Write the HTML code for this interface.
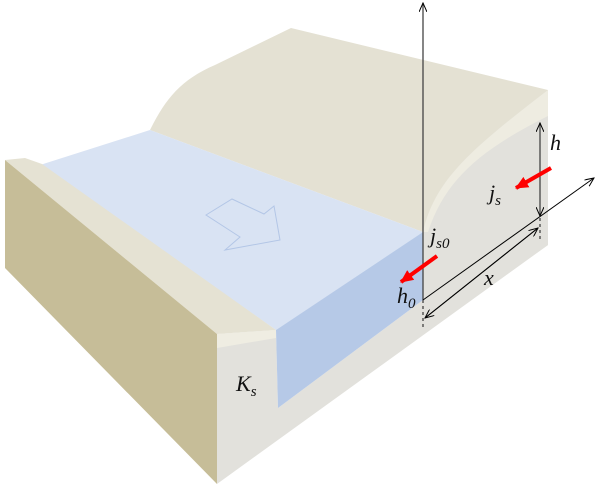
<!DOCTYPE html>
<html><head><style>html,body{margin:0;padding:0;background:#fff}svg{display:block}</style></head>
<body>
<svg width="600" height="490" viewBox="0 0 600 490" xmlns="http://www.w3.org/2000/svg" font-family="Liberation Serif, serif">
<defs>
<marker id="ah" markerWidth="10" markerHeight="8" refX="9" refY="4" orient="auto" markerUnits="userSpaceOnUse"><path d="M0,0 L9,4 L0,8" fill="none" stroke="#000" stroke-width="1"/></marker>
<marker id="ra" markerWidth="14" markerHeight="12" refX="12" refY="6" orient="auto" markerUnits="userSpaceOnUse"><path d="M0,0 L13,6 L0,12 Z" fill="#f00"/></marker>
</defs>
<path d="M150,130 C165,100 180,80 215,65 L291,28 L548,90 L548,245 L423,333 L423,232 Z" fill="#e4e1d3"/>
<path d="M40,165 L150,130 L423,232 L276,330 Z" fill="#d9e3f3"/>
<path d="M5,160 L25,158 L42,164 L276,330 L217,334 Z" fill="#e5e2d3"/>
<path d="M5,160 L217,334 L217,484 L5,268 Z" fill="#c6bd98"/>
<path d="M217,334 L276,330 L278,408 L423,300 L423,232 C435,180 470,150 548,90 L548,245 L217,484 Z" fill="#e2e1dc"/>
<path d="M217,334 L276,330 L276,338 L217,348 Z" fill="#efede2"/>
<path d="M423,232 C435,180 470,150 548,90 L548,116 C480,150 445,180 428,232 Z" fill="#eeece1"/>
<path d="M276,330 L423,232 L423,300 L278,408 Z" fill="#b6c9e7"/>
<path d="M206,215 L232,199 L264,214 L274,206 L280,240 L225,250 L240,237 Z" fill="none" stroke="#b3c6e6" stroke-width="1"/>
<line x1="423" y1="300" x2="423" y2="3" stroke="#444" stroke-width="1.3" marker-end="url(#ah)"/>
<line x1="423" y1="300" x2="423" y2="330" stroke="#444" stroke-width="1.3" stroke-dasharray="3,3"/>
<line x1="423" y1="300" x2="594" y2="178" stroke="#000" stroke-width="1" marker-end="url(#ah)"/>
<line x1="425" y1="318" x2="538" y2="228" stroke="#000" stroke-width="1" marker-end="url(#ah)"/>
<line x1="538" y1="228" x2="425" y2="318" stroke="#000" stroke-width="1" marker-end="url(#ah)"/>
<line x1="540" y1="168" x2="540" y2="123" stroke="#444" stroke-width="1.3" marker-end="url(#ah)"/>
<line x1="540" y1="168" x2="540" y2="216" stroke="#444" stroke-width="1.3" marker-end="url(#ah)"/>
<line x1="540" y1="218" x2="540" y2="242" stroke="#444" stroke-width="1.3" stroke-dasharray="3,3"/>
<line x1="551" y1="168" x2="516" y2="188" stroke="#f00" stroke-width="4" marker-end="url(#ra)"/>
<line x1="437" y1="256" x2="401" y2="282" stroke="#f00" stroke-width="4" marker-end="url(#ra)"/>
<g font-style="italic" fill="#111">
<text x="550" y="150" font-size="22">h</text>
<text x="489" y="200" font-size="22">j<tspan font-size="15" dy="5">s</tspan></text>
<text x="430" y="243" font-size="22">j<tspan font-size="15" dy="5">s0</tspan></text>
<text x="397" y="303" font-size="22">h<tspan font-size="15" dy="5">0</tspan></text>
<text x="484" y="285" font-size="22">x</text>
<text x="236" y="391" font-size="22">K<tspan font-size="15" dy="5">s</tspan></text>
</g>
</svg>
</body></html>
